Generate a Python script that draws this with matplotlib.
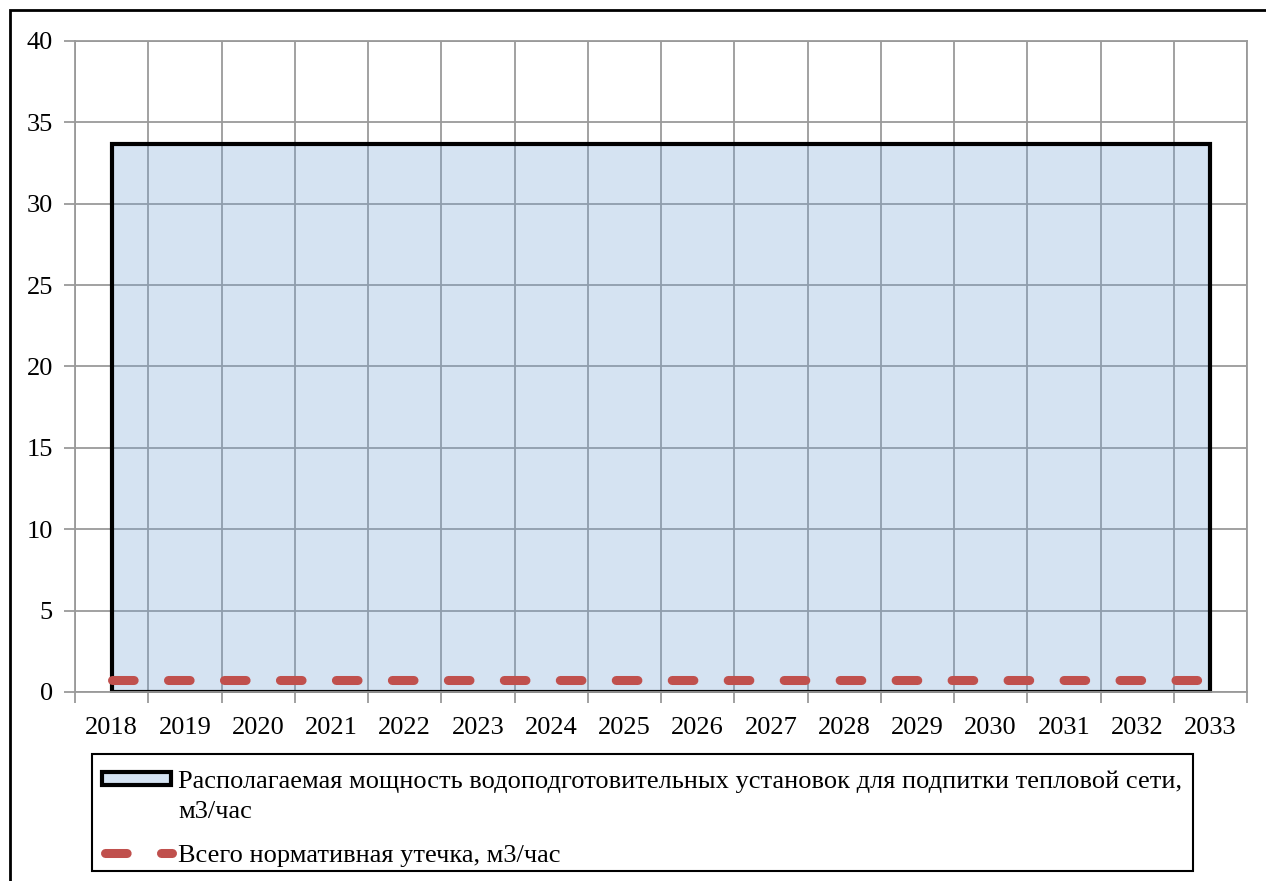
import matplotlib
matplotlib.use("Agg")
import matplotlib.pyplot as plt
from matplotlib.patches import Rectangle
from matplotlib.lines import Line2D

# ── Data ──────────────────────────────────────────────────────────────────────

years = [str(y) for y in range(2018, 2034)]
capacity = [33.7] * 16          # располагаемая мощность ВПУ, м3/час
leakage = [0.75] * 16           # нормативная утечка, м3/час

capacity_label = ["Располагаемая мощность водоподготовительных установок для подпитки тепловой сети,",
                  "м3/час"]
leakage_label = "Всего нормативная утечка, м3/час"

GRID = "#9a9a9a"
FILL = (118 / 255, 165 / 255, 215 / 255, 0.30)
RED = "#c0504d"
FS = 19
DASH = (2.4, 3.8)
W, H = 1266, 881


def fx(px):
    return px / W


def fy(py):
    return 1 - py / H


plt.rcParams["font.family"] = ["Liberation Serif", "DejaVu Serif"]
plt.rcParams["font.size"] = FS

fig = plt.figure(figsize=(W / 100, H / 100), dpi=100)
ax = fig.add_axes([fx(75), fy(692), fx(1247 - 75), (692 - 41) / H])

x = list(range(len(years)))

ax.fill_between(x, 0, capacity, facecolor=FILL, edgecolor="black",
                linewidth=3, joinstyle="miter", zorder=2)
ax.plot(x, leakage, color=RED, linewidth=6.5, dashes=DASH,
        dash_capstyle="round", zorder=3)

ax.set_xlim(-0.5, len(years) - 0.5)
ax.set_ylim(0, 40)
ax.set_yticks(range(0, 41, 5))

# category labels at centres, ticks and gridlines at the boundaries
ax.set_xticks(x)
ax.set_xticklabels(years)
ax.set_xticks([i - 0.5 for i in range(len(years) + 1)], minor=True)
ax.tick_params(axis="x", which="major", length=0, pad=18)
ax.tick_params(axis="x", which="minor", length=8, width=1.3, color=GRID)
ax.tick_params(axis="y", length=8, width=1.3, color=GRID, pad=8)

ax.grid(True, which="minor", axis="x", color=GRID, linewidth=1.3, zorder=1)
ax.grid(True, which="major", axis="y", color=GRID, linewidth=1.3, zorder=1)
ax.set_axisbelow(True)
for s in ax.spines.values():
    s.set_color(GRID)
    s.set_linewidth(1.3)

# ── Legend, laid out by hand so the swatch sits on the first line ────────────
fig.patches.append(Rectangle((fx(92), fy(871)), fx(1193 - 92), (871 - 754) / H,
                             transform=fig.transFigure, fill=False,
                             edgecolor="black", linewidth=1.5))
fig.patches.append(Rectangle((fx(102), fy(785)), fx(171 - 102), 13 / H,
                             transform=fig.transFigure, facecolor=FILL,
                             edgecolor="black", linewidth=3, joinstyle="miter"))
fig.add_artist(Line2D([fx(105), fx(172)], [fy(853), fy(853)],
                      transform=fig.transFigure, color=RED, linewidth=6.5,
                      dashes=DASH, dash_capstyle="round"))
fig.text(fx(178), fy(788), capacity_label[0], va="baseline", ha="left")
fig.text(fx(178), fy(818), capacity_label[1], va="baseline", ha="left")
fig.text(fx(178), fy(862), leakage_label, va="baseline", ha="left")

# outer chart frame
fig.patches.append(Rectangle((fx(10), -0.5), 2.0, 1.5 - 10 / H,
                             transform=fig.transFigure, fill=False,
                             edgecolor="black", linewidth=2))

fig.savefig("out.png", dpi=100)
